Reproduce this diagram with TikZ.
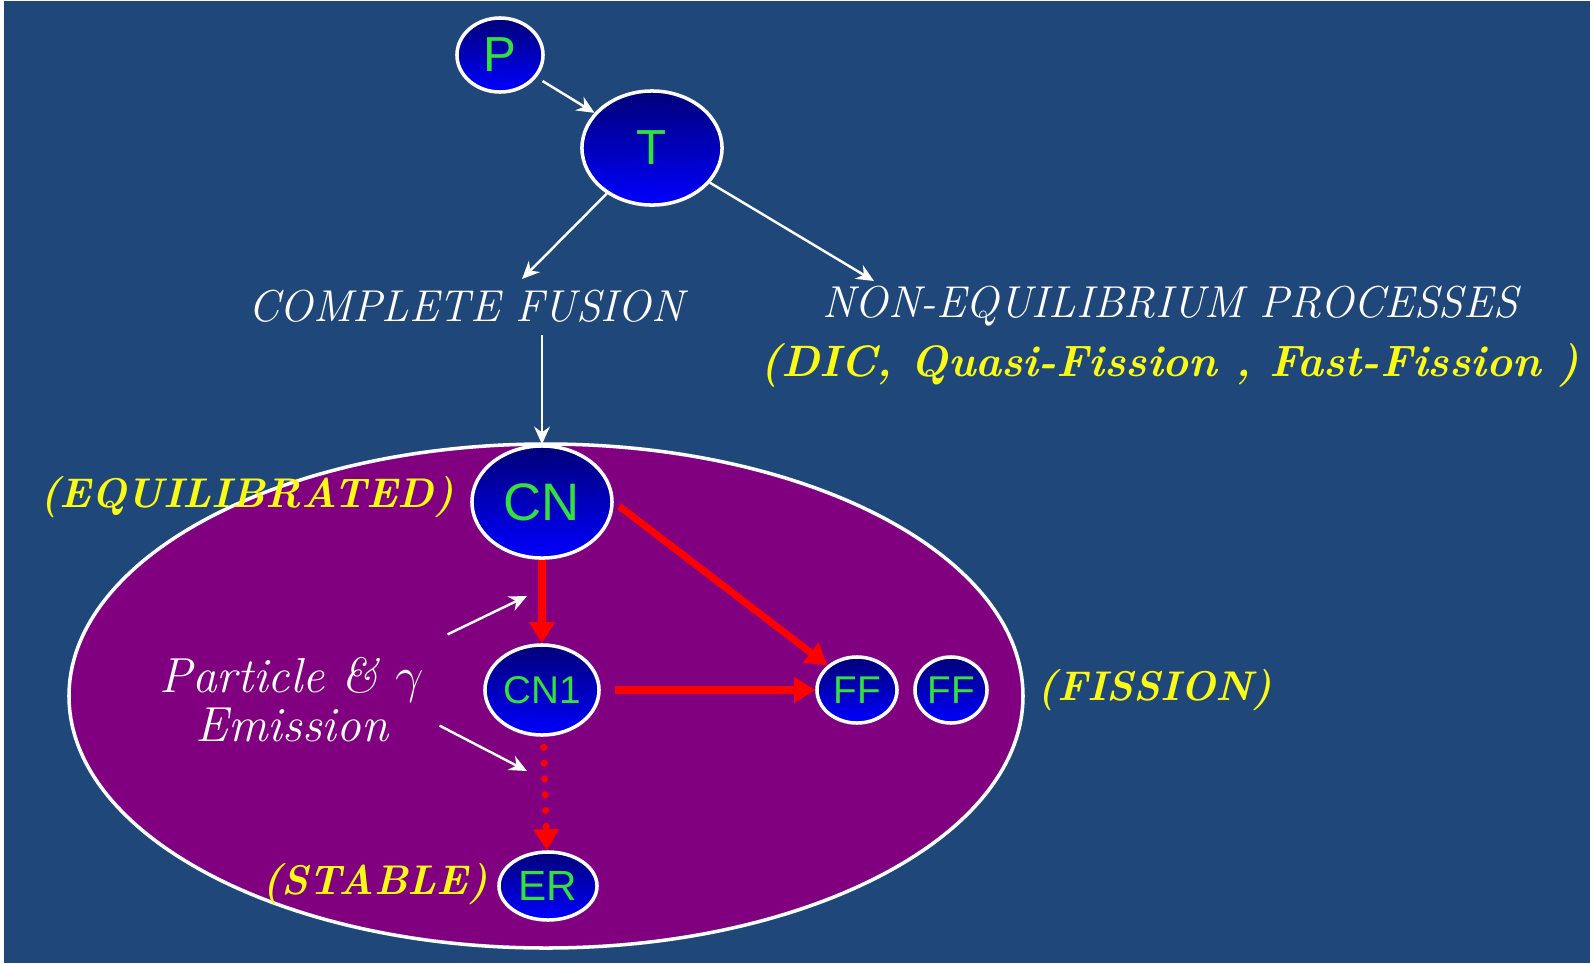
\documentclass[tikz,border=0pt]{standalone}
\usepackage{fontspec}
\setsansfont{Liberation Sans}
\usepackage{tikz}
\usetikzlibrary{arrows.meta}
\usetikzlibrary{shapes.geometric}

\definecolor{bgblue}{RGB}{31,71,122}
\definecolor{cnpurple}{RGB}{128,0,128}
\definecolor{nucdark}{RGB}{0,0,120}
\definecolor{nucblue}{RGB}{0,0,255}
\definecolor{nucgreen}{RGB}{51,225,60}
\definecolor{labyellow}{RGB}{250,250,20}

\begin{document}
\begin{tikzpicture}[x=0.01cm, y=-0.01cm, thick,
    nucleus/.style={ellipse, draw=white, line width=1pt, top color=nucdark,
        bottom color=nucblue, text=nucgreen, inner sep=0pt},
    whitearrow/.style={white, line width=0.7pt, -{Stealth[length=5pt,width=4.5pt]}},
    redarrow/.style={red, line width=2pt, -{Triangle[length=6pt,width=7pt]}},
    reddots/.style={red, line width=2pt, line cap=round, dash pattern=on 0pt off 4.5pt,
        -{Triangle[length=6pt,width=7pt]}},
    whitelabel/.style={text=white, font=\itshape\fontsize{12.7}{13.5}\selectfont},
    yellowlabel/.style={text=labyellow, font=\bfseries\itshape\fontsize{11.8}{14}\selectfont}]

    % sfondo della diapositiva
    \useasboundingbox (0,0) rectangle (1590,963);
    \fill[white] (0,0) rectangle (1590,963);
    \fill[bgblue] (4,1) rectangle (1590,963);

    % grande ellisse del nucleo composto
    \draw[white, line width=1pt, fill=cnpurple] (546,696) ellipse [x radius=477, y radius=252];

    % proiettile e bersaglio
    \node[nucleus, minimum width=0.86cm, minimum height=0.74cm,
        font=\sffamily\fontsize{14}{14}\selectfont] (P) at (500,55) {P};
    \node[nucleus, minimum width=1.40cm, minimum height=1.14cm,
        font=\sffamily\fontsize{14}{14}\selectfont] (T) at (652,148) {T};
    \draw[whitearrow, shorten <=2pt] (P) -- (T);

    % i due canali di reazione
    \node[whitelabel] (cf) at (466,306) {COMPLETE FUSION};
    \node[whitelabel] (neq) at (1170,306) {NON-EQUILIBRIUM PROCESSES};
    \node[yellowlabel, font=\bfseries\itshape\fontsize{12.5}{14}\selectfont]
        (dic) at (1170,365) {(DIC, Quasi-Fission , Fast-Fission )};
    \coordinate (cfin) at (522,279);
    \coordinate (neqin) at (874,281);
    \draw[whitearrow] (T) -- (cfin);
    \draw[whitearrow] (T) -- (neqin);

    % nucleo composto e catena di decadimento
    \node[nucleus, minimum width=1.40cm, minimum height=1.12cm,
        font=\sffamily\fontsize{15}{15}\selectfont] (CN) at (542,502) {CN};
    \node[nucleus, minimum width=1.14cm, minimum height=0.90cm,
        font=\sffamily\fontsize{11}{11}\selectfont] (CN1) at (542,690) {CN1};
    \node[nucleus, minimum width=0.98cm, minimum height=0.68cm,
        font=\sffamily\fontsize{12}{12}\selectfont] (ER) at (548,886) {ER};
    \node[nucleus, minimum width=0.80cm, minimum height=0.66cm,
        font=\sffamily\fontsize{11}{11}\selectfont] (FF1) at (857,690) {FF};
    \node[nucleus, minimum width=0.72cm, minimum height=0.66cm,
        font=\sffamily\fontsize{11}{11}\selectfont] (FF2) at (951,690) {FF};
    \draw[whitearrow] (cf.south -| CN.north) -- (CN.north);

    % etichette gialle
    \node[yellowlabel] (eq) at (247,497) {(EQUILIBRATED)};
    \node[yellowlabel] (fis) at (1155,690) {(FISSION)};
    \node[yellowlabel] (stab) at (375,884) {(STABLE)};

    % frecce rosse
    \draw[redarrow] (CN) -- (CN1);
    \draw[redarrow, shorten <=2pt] (CN.east) -- (FF1.north west);
    \draw[redarrow, shorten <=4pt] (CN1.east) -- (FF1.west);
    \draw[reddots, shorten <=3pt] (CN1) -- (ER);

    % emissione di particelle e gamma
    \node[whitelabel, align=center, font=\itshape\fontsize{14}{14}\selectfont]
        (pe) at (292,700) {Particle \& $\gamma$\\ Emission};
    \coordinate (emtop) at (527,596);
    \coordinate (embot) at (527,771);
    \draw[whitearrow] ([shift={(10,-10)}]pe.north east) -- (emtop);
    \draw[whitearrow] ([shift={(2,-30)}]pe.south east) -- (embot);

\end{tikzpicture}
\end{document}
